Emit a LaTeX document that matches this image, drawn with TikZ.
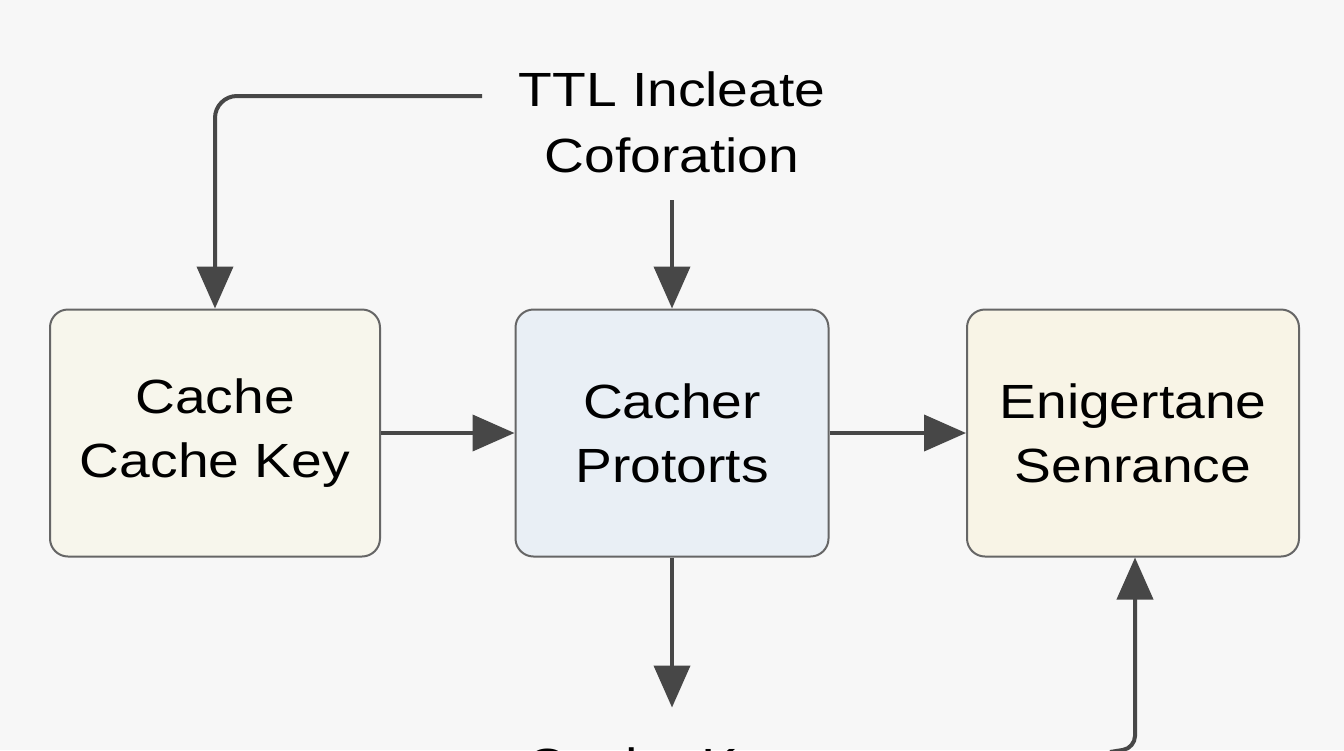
\documentclass[tikz,border=0pt]{standalone}
\usepackage{fontspec}
\setmainfont{Liberation Sans}[FakeStretch=1.15]
\usetikzlibrary{arrows.meta}
\begin{document}
\begin{tikzpicture}[x=1pt,y=-1pt,
  box/.style={draw=black!60,line width=2pt,rounded corners=18pt,minimum width=#1,minimum height=247pt,align=center,font=\fontsize{48}{64}\selectfont,inner sep=0pt},
  lbl/.style={align=center,font=\fontsize{48}{66}\selectfont},
  con/.style={draw=black!72,line width=4pt,-{Triangle[length=42pt,width=36pt]}}]
\useasboundingbox (0,0) rectangle (1344,750);
\clip (0,0) rectangle (1344,750);
\fill[white!97!black] (0,0) rectangle (1344,750);
\node[box=330pt,fill={rgb,255:red,247;green,246;blue,236}] (a) at (215,433) {Cache\\Cache Key};
\node[box=313pt,fill={rgb,255:red,233;green,239;blue,245}] (b) at (672,433) {Cacher\\Protorts};
\node[box=332pt,fill={rgb,255:red,248;green,244;blue,230}] (c) at (1133,433) {Enigertane\\Senrance};
\node[lbl] (t) at (672,122) {TTL Incleate\\Coforation};
\node[lbl] (k) at (662,770) {Cache Key};
\coordinate (tl) at (482,96);
\coordinate (bt) at (672,200);
\coordinate (br) at (1110,752);
\draw[con,rounded corners=22pt] (tl) -| (a.north);
\draw[con] (bt) -- (b.north);
\draw[con] (a.east) -- (b.west);
\draw[con] (b.east) -- (c.west);
\draw[con] (b.south) -- ++(0,150);
\draw[con,rounded corners=12pt] (br) -- (1135,748) -- (c.south -| 1135,0);
\end{tikzpicture}
\end{document}
